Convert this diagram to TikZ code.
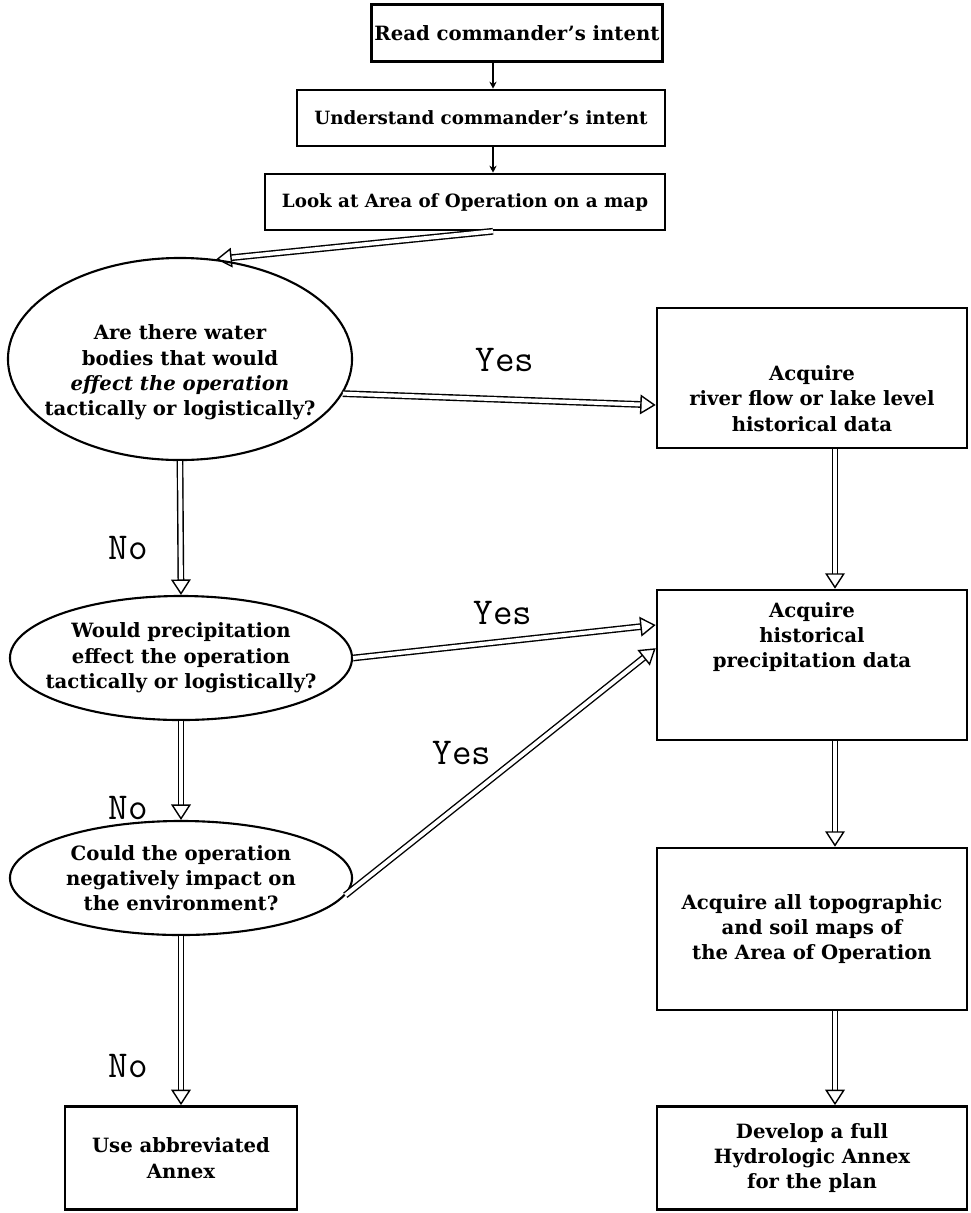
\documentclass[tikz,border=0pt]{standalone}
\usepackage{fontspec}
\setmainfont{DejaVu Serif}
\usetikzlibrary{arrows.meta,shapes.geometric,positioning}

\begin{document}
\begin{tikzpicture}[x=0.025cm, y=-0.025cm, thick,
    box node/.style={rectangle,draw,line width=1.8pt,align=center,inner sep=0pt,
                     font=\bfseries\fontsize{14}{18}\selectfont},
    ask node/.style={ellipse,draw,line width=1.5pt,align=center,inner xsep=-0.5cm,inner ysep=0pt,
                     font=\bfseries\fontsize{14}{18}\selectfont},
    small arrow/.style={line width=2pt,-{Stealth[length=5pt,width=5pt]}},
    big arrow/.style={double,double distance=2.8pt,line width=1pt,
                      -{Triangle[open,length=11pt,width=14pt]}},
    answer/.style={font=\ttfamily\fontsize{27}{30}\selectfont}]

  \useasboundingbox (0,0) rectangle (971,1213);

  % top row of steps
  \node[box node,minimum width=7.28cm,minimum height=1.43cm] (read) at (517,33) {Read commander's intent};
  \node[box node,minimum width=9.2cm,minimum height=1.4cm,font=\bfseries\fontsize{13}{18}\selectfont]
       (grasp) at (481,118) {Understand commander's intent};
  \node[box node,minimum width=10cm,minimum height=1.4cm,font=\bfseries\fontsize{13}{18}\selectfont]
       (map) at (465,202) {Look at Area of Operation on a map};
  \coordinate (spine) at (493,0);
  \coordinate (lane) at (835,0);

  % questions
  \node[ask node,minimum width=8.6cm,minimum height=5.05cm] (water) at (180,359)
       {\rule{0pt}{1.05cm}Are there water\\bodies that would\\\textit{effect the operation}\\tactically or logistically?};
  \node[ask node,minimum width=8.55cm,minimum height=3.1cm] (rain) at (181,658)
       {Would precipitation\\effect the operation\\tactically or logistically?};
  \node[ask node,minimum width=8.55cm,minimum height=2.85cm] (harm) at (181,878)
       {Could the operation\\negatively impact on\\the environment?};

  % data to acquire
  \node[box node,minimum width=7.75cm,minimum height=3.5cm] (flow) at (812,378)
       {\rule{0pt}{1.4cm}Acquire\\river flow or lake level\\historical data};
  \node[box node,minimum width=7.75cm,minimum height=3.75cm] (precip) at (812,665)
       {Acquire\\historical\\precipitation data\rule[-1.5cm]{0pt}{0pt}};
  \node[box node,minimum width=7.75cm,minimum height=4.05cm] (topo) at (812,929)
       {Acquire all topographic\\and soil maps of\\the Area of Operation};

  % outcomes
  \node[box node,minimum width=7.75cm,minimum height=2.58cm] (full) at (812,1158)
       {Develop a full\\Hydrologic Annex\\for the plan};
  \node[box node,minimum width=5.8cm,minimum height=2.58cm] (short) at (181,1158)
       {Use abbreviated\\Annex};

  % answers
  \node[answer] (yes1) at (505,360) {Yes};
  \node[answer] (yes2) at (503,613) {Yes};
  \node[answer] (yes3) at (462,753) {Yes};
  \node[answer] (no1) at (128,548) {No};
  \node[answer] (no2) at (128,808) {No};
  \node[answer] (no3) at (128,1066) {No};

  \draw[small arrow] (read.south -| spine) -- (grasp.north -| spine);
  \draw[small arrow] (grasp.south -| spine) -- (map.north -| spine);
  \draw[big arrow] (map.south -| spine) -- (water.70);

  \draw[big arrow] (water.-12) -- ([yshift=-0.675cm]flow.west);
  \draw[big arrow] (rain.east) -- ([yshift=1cm]precip.west);
  \draw[big arrow] (harm.-6) -- ([yshift=0.42cm]precip.west);

  \draw[big arrow] (water.south) -- (rain.north);
  \draw[big arrow] (rain.south) -- (harm.north);
  \draw[big arrow] (harm.south) -- (short.north);

  \draw[big arrow] (flow.south -| lane) -- (precip.north -| lane);
  \draw[big arrow] (precip.south -| lane) -- (topo.north -| lane);
  \draw[big arrow] (topo.south -| lane) -- (full.north -| lane);

\end{tikzpicture}
\end{document}
